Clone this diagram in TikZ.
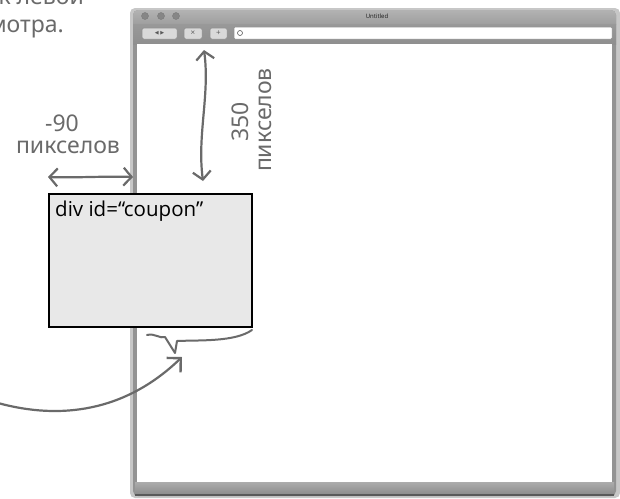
\documentclass[tikz,border=0pt]{standalone}
\usepackage{fontspec}
\setmainfont{Open Sans}
\newfontfamily\hand{Noto Sans}
\newfontfamily\sym{DejaVu Sans}
\usetikzlibrary{arrows.meta,calc}
\definecolor{pen}{HTML}{6A6A6A}
\definecolor{boxfill}{HTML}{E8E8E8}
\tikzset{
  handarrow/.style={draw=pen, line width=2.2pt, line cap=round,
    {Straight Barb[length=8pt,width=18pt,line width=2.2pt]}-{Straight Barb[length=8pt,width=18pt,line width=2.2pt]}},
  onearrow/.style={draw=pen, line width=2.2pt, line cap=round,
    -{Straight Barb[length=10pt,width=20pt,line width=2.4pt]}},
  handtext/.style={text=pen, font=\hand\fontsize{23}{25}\selectfont, inner sep=0pt},
  toolbtn/.style={draw=gray!90, fill=gray!30, rounded corners=1.5pt, line width=0.5pt},
  light/.style={circle, fill=gray!95, draw=gray!95!black, inner sep=0pt, minimum size=7pt},
  couponbox/.style={draw=black, line width=1.6pt, fill=boxfill, minimum width=203pt,
    minimum height=133pt, inner sep=0pt, anchor=north west}
}
\begin{document}
\begin{tikzpicture}[x=1pt,y=-1pt]
\useasboundingbox (0,0) rectangle (620,498);
% window shadow
\fill[black!22, rounded corners=5pt] (130,8) rectangle (620,498);
% window frame
\fill[gray!85, rounded corners=5pt] (133,10) rectangle (616,496);
\shade[top color=gray!60, bottom color=gray!82, rounded corners=5pt] (133,10) rectangle (616,30);
\shade[top color=gray!80, bottom color=gray!88] (133,24) rectangle (616,44);
\fill[white] (137,44) rectangle (612,482);
\shade[top color=gray!65, bottom color=gray!90] (135,482) rectangle (614,494);
\fill[gray!70!black] (135,494) rectangle (614,496);
% title bar
\node[light] (l1) at (145,16) {};
\node[light] (l2) at (161,16) {};
\node[light] (l3) at (176,16) {};
\node[font=\fontsize{6}{7}\selectfont, text=gray!20!black] (title) at (377,16) {Untitled};
% toolbar
\draw[toolbtn] (142,28) rectangle (177,39);
\node[font=\sym\fontsize{5}{6}\selectfont, text=gray!70!black] (nav) at (159.5,33.5) {◀\,\,▶};
\draw[toolbtn] (184,28) rectangle (202,39);
\node[font=\fontsize{8}{8}\selectfont, text=gray!70!black] (stop) at (193,33.5) {×};
\draw[toolbtn] (210,28) rectangle (227,39);
\node[font=\fontsize{8}{8}\selectfont, text=gray!70!black] (plus) at (218.5,33.5) {+};
\draw[toolbtn, fill=white, rounded corners=1pt] (234,27) rectangle (612,39);
\node[circle, draw=gray!70!black, line width=0.6pt, inner sep=0pt, minimum size=5pt] (icon) at (240,33) {};
% cropped caption at top left
\node[handtext, anchor=base east] (cap1) at (84,4) {к левой};
\node[handtext, anchor=base east] (cap2) at (64,32) {просмотра.};
% coupon box
\node[couponbox] (box) at (48,193) {};
\node[font=\fontsize{20.5}{23}\selectfont, anchor=base west, inner sep=0pt] (boxlabel) at (55,216) {div id=“coupon”};
% horizontal offset arrow
\coordinate (h1) at (48,177);
\coordinate (h2) at (133,177);
\draw[handarrow] (h1) .. controls (75,178) and (105,176) .. (h2);
\node[handtext, anchor=base] (m90) at (62,131) {-90};
\node[handtext, anchor=base] (pix1) at (68,153) {пикселов};
% vertical offset arrow
\coordinate (v1) at (204,50);
\coordinate (v2) at (203,181);
\draw[handarrow] (v1) .. controls (210,95) and (197,135) .. (v2);
\node[handtext, rotate=90] (n350) at (240,122) {350};
\node[handtext, rotate=90] (pix2) at (265,120) {пикселов};
% brace under box
\draw[pen, line width=2pt, line cap=round, line join=round]
  (147,335) .. controls (155,333) and (160,339) .. (165,337)
  -- (175,353) -- (177,341)
  .. controls (200,340) and (235,342) .. (252,330);
% curved pointer arrow
\coordinate (c0) at (-2,403);
\coordinate (c1) at (182,357);
\draw[onearrow] (c0) .. controls (60,420) and (125,412) .. (c1);
\end{tikzpicture}
\end{document}
